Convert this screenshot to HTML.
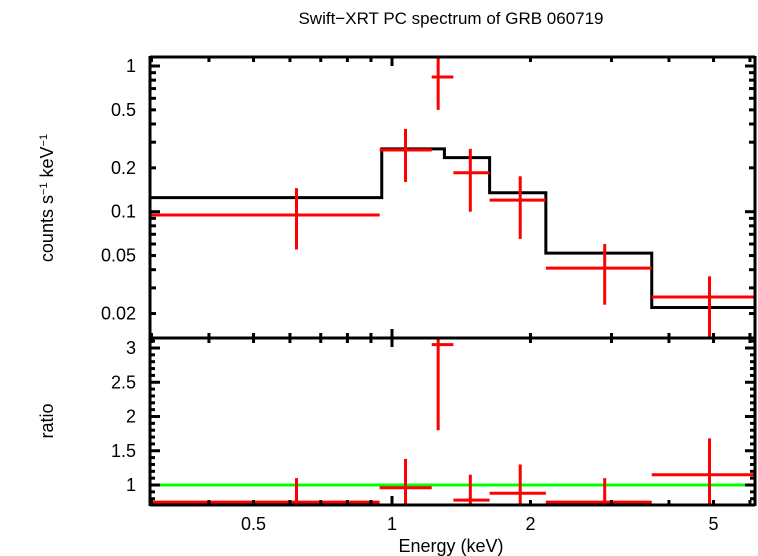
<!DOCTYPE html>
<html><head><meta charset="utf-8"><style>
body{margin:0;background:#fff}
svg{display:block;font-family:"Liberation Sans",sans-serif}
</style></head><body>
<svg id="c" width="758" height="556">
<text x="451" y="24" font-size="17" text-anchor="middle">Swift−XRT PC spectrum of GRB 060719</text>
<text x="451" y="552" font-size="18" text-anchor="middle">Energy (keV)</text>
<text transform="translate(53,198) rotate(-90)" font-size="18" text-anchor="middle">counts s<tspan font-size="11" dy="-6">−1</tspan><tspan dy="6"> keV</tspan><tspan font-size="11" dy="-6">−1</tspan></text>
<text transform="translate(53,421) rotate(-90)" font-size="18" text-anchor="middle">ratio</text>
<g id="g"></g>
</svg>
<script>
const binLo=[0.3,0.94,1.22,1.36,1.63,2.16,3.67];
const binHi=[0.94,1.22,1.36,1.63,2.16,3.67,6.2];
const binC=[0.62,1.07,1.26,1.48,1.9,2.9,4.9];
const flux=[0.095,0.265,0.84,0.185,0.12,0.041,0.026];
const fluxLo=[0.055,0.16,0.5,0.1,0.065,0.023,0.008];
const fluxHi=[0.145,0.37,1.3,0.27,0.175,0.06,0.036];
const modelLo=[0.3,0.95,1.3,1.63,2.16,3.67];
const modelHi=[0.95,1.3,1.63,2.16,3.67,6.2];
const model=[0.125,0.27,0.235,0.135,0.052,0.022];
const ratio=[0.75,0.96,3.05,0.78,0.88,0.75,1.15];
const ratioLo=[0.6,0.6,1.8,0.6,0.6,0.6,0.7];
const ratioHi=[1.1,1.38,3.2,1.15,1.3,1.1,1.68];
const xTicks=[0.5,1,2,5];
const xTickLabels=["0.5","1","2","5"];
const yTicks=[0.02,0.05,0.1,0.2,0.5,1];
const yTickLabels=["0.02","0.05","0.1","0.2","0.5","1"];
const rTicks=[1,1.5,2,2.5,3];
const rTickLabels=["1","1.5","2","2.5","3"];

const L=150,R=755,T=57,M=338,B=505;
const X=e=>Math.max(L,Math.min(R,392+460*Math.log10(e)));
const Y=v=>Math.max(T,Math.min(M,66-145.7*Math.log10(v)));
const RY=v=>Math.max(M,Math.min(B,485-68.5*(v-1)));
const g=document.getElementById('g');
function ln(x1,y1,x2,y2,c,w,name){const l=document.createElementNS('http://www.w3.org/2000/svg','line');
l.setAttribute('x1',x1);l.setAttribute('y1',y1);l.setAttribute('x2',x2);l.setAttribute('y2',y2);
l.setAttribute('stroke',c);l.setAttribute('stroke-width',w);


g.appendChild(l);return l;}
function tx(x,y,s,name){const t=document.createElementNS('http://www.w3.org/2000/svg','text');
t.setAttribute('x',x);t.setAttribute('y',y);t.setAttribute('font-size','18');t.setAttribute('text-anchor',name.startsWith('x')?'middle':'end');t.textContent=s;


g.appendChild(t);}
let d='';
for(let i=0;i<model.length;i++){d+=(i?'L':'M')+X(modelLo[i])+','+Y(model[i])+'L'+X(modelHi[i])+','+Y(model[i]);}
const p=document.createElementNS('http://www.w3.org/2000/svg','path');
p.setAttribute('d',d);p.setAttribute('fill','none');p.setAttribute('stroke','#000');p.setAttribute('stroke-width','3');


g.appendChild(p);
ln(L,RY(1),R,RY(1),'#00ff00',3,'ratio-unity-line');
for(let i=0;i<flux.length;i++){
ln(X(binLo[i]),Y(flux[i]),X(binHi[i]),Y(flux[i]),'#f00',3,'data-bin-'+i);
ln(X(binC[i]),Y(fluxLo[i]),X(binC[i]),Y(fluxHi[i]),'#f00',3,'data-error-'+i);
ln(X(binLo[i]),RY(ratio[i]),X(binHi[i]),RY(ratio[i]),'#f00',3,'ratio-bin-'+i);
ln(X(binC[i]),RY(ratioLo[i]),X(binC[i]),RY(ratioHi[i]),'#f00',3,'ratio-error-'+i);
}
ln(L,T,R,T,'#000',3,'frame-top');ln(L,M,R,M,'#000',3,'frame-divider');ln(L,B,R,B,'#000',3,'frame-bottom');
ln(L,T-1,L,B+1,'#000',3,'frame-left');ln(R,T-1,R,B+1,'#000',3,'frame-right');
for(let e=0.3;e<=6.05;e+= (e<0.95?0.1:1)){const v=Math.round(e*10)/10;const x=X(v);const maj=(v===1);
const len=maj?9:5;
[T,M].forEach(y=>ln(x,y,x,y+len,'#000',3,'x-tick'));
[M,B].forEach(y=>ln(x,y,x,y-len,'#000',3,'x-tick'));
if(v>=1&&v<1.05)e=1;}
xTicks.forEach((v,i)=>tx(X(v),530,xTickLabels[i],'x-tick-label'));
[0.02,0.03,0.04,0.05,0.06,0.07,0.08,0.09,0.1,0.2,0.3,0.4,0.5,0.6,0.7,0.8,0.9,1].forEach(v=>{const y=Y(v);const len=(v===0.1||v===1)?10:6;
ln(L,y,L+len,y,'#000',3,'y-tick');ln(R,y,R-len,y,'#000',3,'y-tick');});
yTicks.forEach((v,i)=>tx(136,Y(v)+6,yTickLabels[i],'y-tick-label'));
for(let k=8;k<=31;k++){const v=k/10;const y=RY(v);const len=(k%5===0)?10:5;
ln(L,y,L+len,y,'#000',3,'ratio-tick');ln(R,y,R-len,y,'#000',3,'ratio-tick');}
rTicks.forEach((v,i)=>tx(136,RY(v)+6,rTickLabels[i],'ratio-tick-label'));
</script>
</body></html>
